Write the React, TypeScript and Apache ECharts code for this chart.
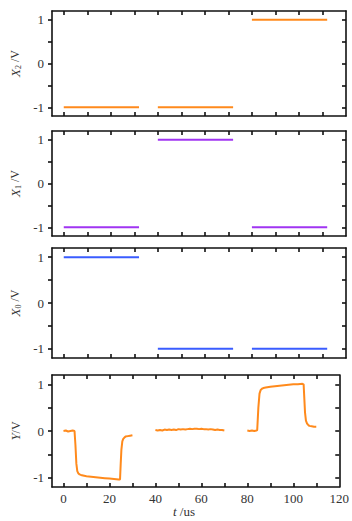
import React, { useEffect, useRef } from "react";
import * as echarts from "echarts";

const segStarts = [0, 40, 80];
const segEnds = [32, 72, 112];
const x2Levels = [-1, -1, 1];
const x1Levels = [-1, 1, -1];
const x0Levels = [1, -1, -1];

const ySeg1T = [0, 1, 2, 3, 4, 4.8, 5.2, 5.6, 6.0, 6.5, 7, 8, 9, 10, 12, 14, 16, 18, 20, 22, 24, 24.6, 24.9, 25.2, 25.6, 26, 26.5, 27, 28, 29, 30];
const ySeg1V = [0.0, 0.01, -0.01, 0.0, 0.01, 0.0, -0.3, -0.7, -0.86, -0.91, -0.93, -0.95, -0.96, -0.97, -0.98, -0.99, -1.0, -1.01, -1.02, -1.03, -1.04, -1.04, -0.7, -0.4, -0.22, -0.17, -0.14, -0.12, -0.11, -0.1, -0.09];
const ySeg2T = [40, 41, 42, 43, 44, 45, 46, 47, 48, 49, 50, 51, 52, 53, 54, 55, 56, 57, 58, 59, 60, 61, 62, 63, 64, 65, 66, 67, 68, 69, 70];
const ySeg2V = [0.02, 0.01, 0.02, 0.01, 0.03, 0.02, 0.03, 0.02, 0.03, 0.02, 0.04, 0.03, 0.04, 0.03, 0.04, 0.05, 0.04, 0.05, 0.05, 0.04, 0.05, 0.04, 0.04, 0.03, 0.04, 0.03, 0.02, 0.03, 0.02, 0.02, 0.01];
const ySeg3T = [80, 81, 82, 83, 84, 84.3, 84.8, 85.3, 85.8, 86.5, 87, 88, 90, 92, 94, 96, 98, 100, 102, 104, 104.5, 104.8, 105.1, 105.5, 106, 106.5, 107, 108, 109, 110];
const ySeg3V = [0.01, 0.0, 0.01, 0.0, 0.01, 0.02, 0.5, 0.8, 0.88, 0.91, 0.92, 0.93, 0.95, 0.96, 0.97, 0.98, 0.99, 1.0, 1.0, 1.01, 1.0, 0.7, 0.4, 0.22, 0.16, 0.13, 0.11, 0.1, 0.09, 0.09];

const xTicks = [0, 10, 20, 30, 40, 50, 60, 70, 80, 90, 100, 110];
const xLabels = [0, 20, 40, 60, 80, 100, 120];
const yTicks = [-1, -0.5, 0, 0.5, 1];
const yLabels = [-1, 0, 1];

const ORANGE = "#ff8a1c";
const PURPLE = "#a035f2";
const BLUE = "#3a5cff";
const FONT = "'Liberation Serif', 'Times New Roman', Times, serif";

const grids = [
  { top: 11, height: 105 },
  { top: 131, height: 105 },
  { top: 248, height: 110 },
  { top: 375, height: 112 },
];

const names = [
  "{i|X}{s|2} /V",
  "{i|X}{s|1} /V",
  "{i|X}{s|0} /V",
  "{i|Y}/V",
];

export default function App() {
  const ref = useRef<HTMLDivElement>(null);
  useEffect(() => {
    if (!ref.current) return;
    const chart = echarts.init(ref.current, null, { renderer: "svg" });
    const lineStyleAxis = { color: "#111", width: 1.6 };
    const xAxis: any[] = [];
    const yAxis: any[] = [];
    grids.forEach((g, i) => {
      const last = i === grids.length - 1;
      xAxis.push({
        type: "value", gridIndex: i, position: "bottom", min: -5, max: 120,
        axisLine: { show: true, onZero: false, lineStyle: lineStyleAxis },
        axisTick: { show: true, inside: true, length: 4, customValues: xTicks, lineStyle: lineStyleAxis },
        axisLabel: { show: last, customValues: xLabels, fontFamily: FONT, fontSize: 13, color: "#333", margin: 5 },
        splitLine: { show: false },
      });
      xAxis.push({
        type: "value", gridIndex: i, position: "top", min: -5, max: 120,
        axisLine: { show: true, onZero: false, lineStyle: lineStyleAxis },
        axisTick: { show: true, inside: true, length: 4, customValues: xTicks, lineStyle: lineStyleAxis },
        axisLabel: { show: false },
        splitLine: { show: false },
      });
      yAxis.push({
        type: "value", gridIndex: i, position: "left", min: -1.2, max: 1.2,
        axisLine: { show: true, onZero: false, lineStyle: lineStyleAxis },
        axisTick: { show: true, inside: false, length: 4, customValues: yTicks, lineStyle: lineStyleAxis },
        axisLabel: { show: true, customValues: yLabels, fontFamily: FONT, fontSize: 13, color: "#333", margin: 8 },
        splitLine: { show: false },
        name: names[i], nameLocation: "middle", nameRotate: 90, nameGap: 29,
        nameTextStyle: {
          color: "#333", fontFamily: FONT, fontSize: 12,
          rich: {
            i: { fontStyle: "italic", fontFamily: FONT, fontSize: 13, color: "#333" },
            s: { fontFamily: FONT, fontSize: 8, color: "#333", verticalAlign: "bottom", padding: [6, 0, 0, 0] },
          },
        },
      });
      yAxis.push({
        type: "value", gridIndex: i, position: "right", min: -1.2, max: 1.2,
        axisLine: { show: true, onZero: false, lineStyle: lineStyleAxis },
        axisTick: { show: true, inside: true, length: 4, customValues: yTicks, lineStyle: lineStyleAxis },
        axisLabel: { show: false },
        splitLine: { show: false },
      });
    });

    const series: any[] = [];
    const levelSets = [
      { levels: x2Levels, color: ORANGE },
      { levels: x1Levels, color: PURPLE },
      { levels: x0Levels, color: BLUE },
    ];
    levelSets.forEach((ls, i) => {
      segStarts.forEach((s, k) => {
        series.push({
          type: "line", xAxisIndex: 2 * i, yAxisIndex: 2 * i, showSymbol: false, symbol: "none",
          lineStyle: { color: ls.color, width: 2 },
          data: [[s, ls.levels[k]], [segEnds[k], ls.levels[k]]],
        });
      });
    });
    const ySegs = [
      [ySeg1T, ySeg1V],
      [ySeg2T, ySeg2V],
      [ySeg3T, ySeg3V],
    ];
    ySegs.forEach(([ts, vs]) => {
      series.push({
        type: "line", xAxisIndex: 6, yAxisIndex: 6, showSymbol: false, symbol: "none",
        lineStyle: { color: ORANGE, width: 2 },
        data: ts.map((t, j) => [t, vs[j]]),
      });
    });

    chart.setOption({
      animation: false,
      backgroundColor: "#fff",
      grid: grids.map((g) => ({ left: 52, width: 294, top: g.top, height: g.height, containLabel: false })),
      xAxis,
      yAxis,
      series,
      graphic: [
        {
          type: "text", left: 173, top: 505,
          style: {
            text: "{i|t} /us",
            rich: {
              i: { fontStyle: "italic", fontFamily: FONT, fontSize: 13, fill: "#333" },
            },
            font: `13px ${FONT}`,
            fill: "#333",
          },
        },
      ],
    });
    return () => chart.dispose();
  }, []);
  return (
    <div
      ref={ref}
      style={{ position: "fixed", left: 0, top: 0, width: 352, height: 521, background: "#fff" }}
    />
  );
}
